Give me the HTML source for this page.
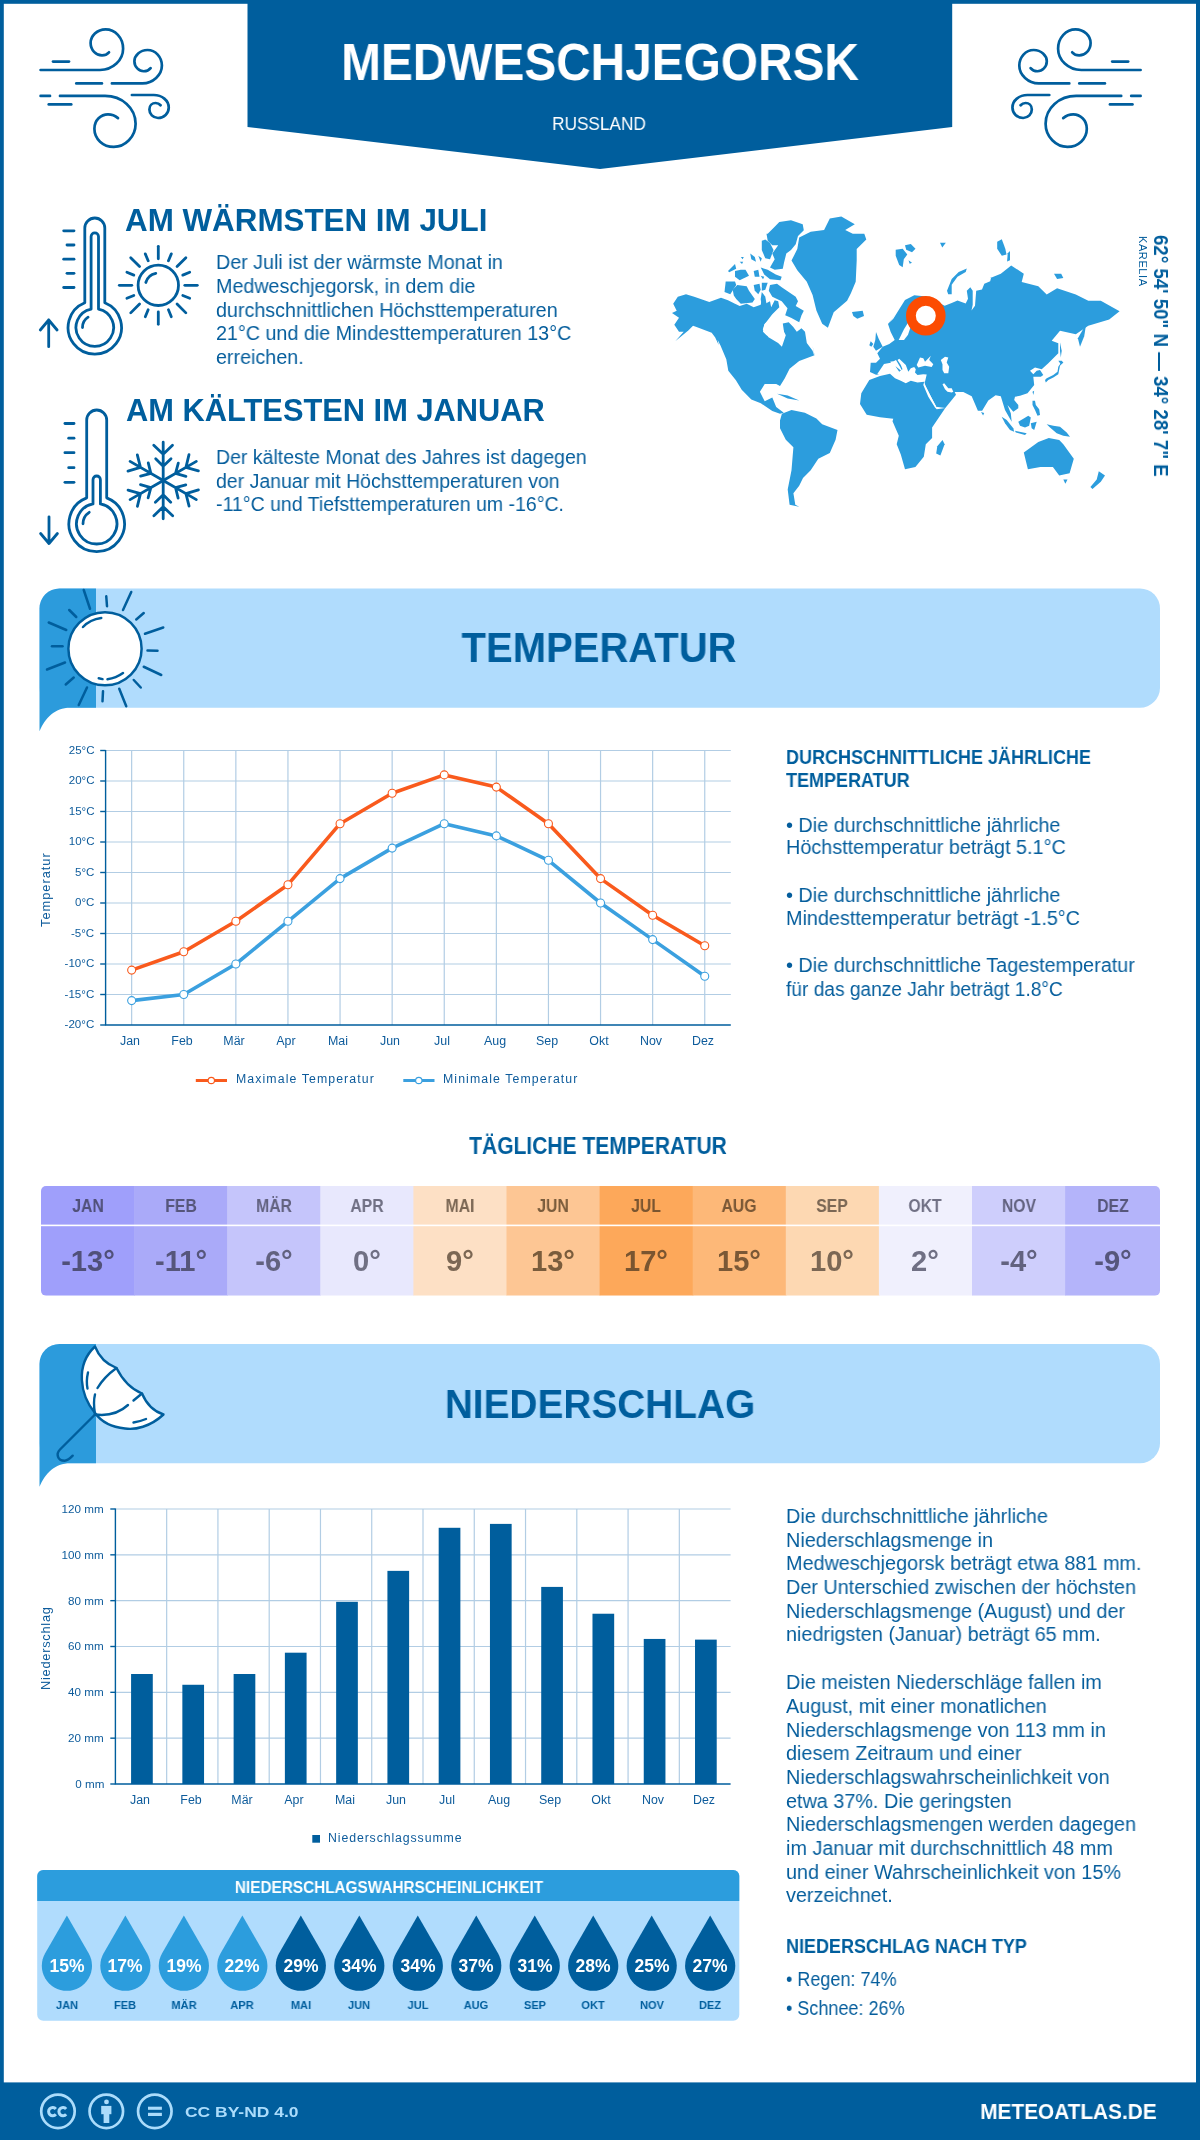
<!DOCTYPE html>
<html><head><meta charset="utf-8"><style>
html,body{margin:0;padding:0;}
body{width:1200px;height:2140px;position:relative;overflow:hidden;background:#fff;font-family:"Liberation Sans",sans-serif;-webkit-font-smoothing:antialiased;}
body>div{will-change:transform;}
</style></head><body>
<svg width="1200" height="2140" viewBox="0 0 1200 2140" style="position:absolute;left:0;top:0">
<rect x="0" y="0" width="1200" height="2140" fill="#005e9d"/>
<rect x="3.8" y="3.8" width="1192.2" height="2079" fill="#fff"/>
<polygon points="247.5,0 952.2,0 952.2,127 600,169 247.5,127" fill="#005e9d"/>
<g fill="none" stroke="#005e9d" stroke-width="2.7" stroke-linecap="round"><path d="M40.6 70 H100 C113 70 123.1 60 123.1 48.75 C123.1 37.5 115 29.4 105.6 29.4 C97 29.4 90.6 36 90.6 43 C90.6 50 96 55.4 102 55.4 C105 55.4 107.5 54 109 52.3"/><path d="M53 61.6 H69"/><path d="M76.3 83.4 H101.9"/><path d="M111.9 83.4 H142.5 C153 83.4 161.9 75 161.9 65.6 C161.9 57 155.5 50 147.5 50 C140 50 134.4 55.5 134.4 61.25 C134.4 67 139 71.25 143.75 71.25 C147 71.25 149.3 69.8 150.6 68.1"/><path d="M40.6 95.9 H50"/><path d="M60 95.9 H105 C122 95.9 135.6 108 135.6 123.75 C135.6 137 125 146.9 113.75 146.9 C103 146.9 94.4 139 94.4 128.75 C94.4 120 101 114.4 108 114.4 C112 114.4 115.5 116 118 118.1"/><path d="M48.75 104.4 H71.25"/><path d="M131.9 95 H153.75 C162 95 168.75 100.5 168.75 107.5 C168.75 113.5 164 118 158 118 C153 118 149.4 114 149.4 109.4 C149.4 105.5 152.3 103 155.6 103 C157.8 103 159.5 104 160.6 105.25"/></g>
<g fill="none" stroke="#005e9d" stroke-width="2.7" stroke-linecap="round" transform="translate(1181.2,0) scale(-1,1)"><path d="M40.6 70 H100 C113 70 123.1 60 123.1 48.75 C123.1 37.5 115 29.4 105.6 29.4 C97 29.4 90.6 36 90.6 43 C90.6 50 96 55.4 102 55.4 C105 55.4 107.5 54 109 52.3"/><path d="M53 61.6 H69"/><path d="M76.3 83.4 H101.9"/><path d="M111.9 83.4 H142.5 C153 83.4 161.9 75 161.9 65.6 C161.9 57 155.5 50 147.5 50 C140 50 134.4 55.5 134.4 61.25 C134.4 67 139 71.25 143.75 71.25 C147 71.25 149.3 69.8 150.6 68.1"/><path d="M40.6 95.9 H50"/><path d="M60 95.9 H105 C122 95.9 135.6 108 135.6 123.75 C135.6 137 125 146.9 113.75 146.9 C103 146.9 94.4 139 94.4 128.75 C94.4 120 101 114.4 108 114.4 C112 114.4 115.5 116 118 118.1"/><path d="M48.75 104.4 H71.25"/><path d="M131.9 95 H153.75 C162 95 168.75 100.5 168.75 107.5 C168.75 113.5 164 118 158 118 C153 118 149.4 114 149.4 109.4 C149.4 105.5 152.3 103 155.6 103 C157.8 103 159.5 104 160.6 105.25"/></g>
<g fill="none" stroke="#005e9d" stroke-width="2.8" stroke-linecap="round" stroke-linejoin="round"><path d="M84.80,302.74 V228.00 A10.0,10.0 0 0 1 104.80,228.00 V302.74 A26.7,26.7 0 1 1 84.80,302.74 Z"/><path d="M91.10,309.07 V236.60 A3.7,3.7 0 0 1 98.50,236.60 V309.07 A18.8,18.8 0 1 1 91.10,309.07 Z"/><path d="M82.50,327.50 A12.3,12.3 0 0 1 88.10,317.18"/><path d="M63.7,230.8 H74"/><path d="M67.0,245 H74"/><path d="M63.7,259.2 H74"/><path d="M67.0,273.3 H74"/><path d="M63.7,287.5 H74"/><path d="M48.7,346.7 V320 M40.300000000000004,330 L48.7,320 L57.1,330"/><circle cx="158.3" cy="285.3" r="20.2"/><path d="M145.8,282.5 A13,13 0 0 1 155.8,273.3"/><path d="M184.80,285.30 L197.30,285.30"/><path d="M182.78,295.44 L189.71,298.31"/><path d="M177.04,304.04 L185.88,312.88"/><path d="M168.44,309.78 L171.31,316.71"/><path d="M158.30,311.80 L158.30,324.30"/><path d="M148.16,309.78 L145.29,316.71"/><path d="M139.56,304.04 L130.72,312.88"/><path d="M133.82,295.44 L126.89,298.31"/><path d="M131.80,285.30 L119.30,285.30"/><path d="M133.82,275.16 L126.89,272.29"/><path d="M139.56,266.56 L130.72,257.72"/><path d="M148.16,260.82 L145.29,253.89"/><path d="M158.30,258.80 L158.30,246.30"/><path d="M168.44,260.82 L171.31,253.89"/><path d="M177.04,266.56 L185.88,257.72"/><path d="M182.78,275.16 L189.71,272.29"/><path d="M86.70,497.86 V420.00 A10.0,10.0 0 0 1 106.70,420.00 V497.86 A27.8,27.8 0 1 1 86.70,497.86 Z"/><path d="M93.00,503.94 V479.70 A3.7,3.7 0 0 1 100.40,479.70 V503.94 A20.2,20.2 0 1 1 93.00,503.94 Z"/><path d="M83.00,523.80 A13.7,13.7 0 0 1 89.24,512.31"/><path d="M64.95,423.5 H74"/><path d="M68.7,438.2 H74"/><path d="M64.95,452.7 H74"/><path d="M68.7,467.7 H74"/><path d="M64.95,482.3 H74"/><path d="M49,516.8 V543.5 M40.6,533.5 L49,543.5 L57.4,533.5"/><g transform="translate(163.2,480.5)"><path transform="rotate(0)" d="M0,0 V-38.25 M-9.45,-35.25 L0,-26.25 L9.3,-35.25 M-7.5,-21.75 L0,-14.25 L7.8,-21.75"/><path transform="rotate(60)" d="M0,0 V-38.25 M-9.45,-35.25 L0,-26.25 L9.3,-35.25 M-7.5,-21.75 L0,-14.25 L7.8,-21.75"/><path transform="rotate(120)" d="M0,0 V-38.25 M-9.45,-35.25 L0,-26.25 L9.3,-35.25 M-7.5,-21.75 L0,-14.25 L7.8,-21.75"/><path transform="rotate(180)" d="M0,0 V-38.25 M-9.45,-35.25 L0,-26.25 L9.3,-35.25 M-7.5,-21.75 L0,-14.25 L7.8,-21.75"/><path transform="rotate(240)" d="M0,0 V-38.25 M-9.45,-35.25 L0,-26.25 L9.3,-35.25 M-7.5,-21.75 L0,-14.25 L7.8,-21.75"/><path transform="rotate(300)" d="M0,0 V-38.25 M-9.45,-35.25 L0,-26.25 L9.3,-35.25 M-7.5,-21.75 L0,-14.25 L7.8,-21.75"/></g></g><rect x="39.5" y="588.5" width="1120.5" height="119.2" rx="20" fill="#b0dcfd"/><path d="M39.5,731.3 V608.5 A20,20 0 0 1 59.5,588.5 H96 V707.7 H70 C55,707.7 45,718 39.5,731.3 Z" fill="#2c9bdc"/><g fill="none" stroke="#005e9d" stroke-width="2.5" stroke-linecap="round"><path d="M83.75,590 L90,608.75"/><path d="M106.25,596.25 L107,606.25"/><path d="M131.25,592 L123,610"/><path d="M143.75,613 L136.25,619.5"/><path d="M163.25,627.5 L145,633.75"/><path d="M157.5,650.75 L147.5,650.5"/><path d="M161.25,675 L143.75,666.75"/><path d="M140.75,687.5 L133.75,680"/><path d="M126.25,706.25 L119.25,688.75"/><path d="M103,691.25 L102.5,701.25"/><path d="M87,687.5 L78.75,705"/><path d="M73.75,677.5 L65.75,684.5"/><path d="M65,662.5 L47,669.5"/><path d="M62.5,646.25 L52,646.25"/><path d="M66.25,630 L48.75,622.5"/><path d="M76.25,617 L69.25,610"/><circle cx="105" cy="648.75" r="36.6" fill="#fff"/><path d="M83,627 Q90,619.5 101.25,618"/><path d="M98.75,678.25 L102.5,679.1 M107.5,679.25 Q116,678 123,673"/></g><rect x="39.5" y="1344.0" width="1120.5" height="119.2" rx="20" fill="#b0dcfd"/><path d="M39.5,1486.8 V1364.0 A20,20 0 0 1 59.5,1344.0 H96 V1463.2 H70 C55,1463.2 45,1473.5 39.5,1486.8 Z" fill="#2c9bdc"/><g fill="none" stroke="#005e9d" stroke-width="2.4" stroke-linecap="round" stroke-linejoin="round"><path d="M95,1346.5 Q101,1362 116.5,1368 Q126,1387 142,1393.5 Q149,1410 163.5,1414.5 C150,1427 135,1430 125,1428.5 C110,1427 100,1420 95,1413 C80,1395 75,1365 95,1346.5 Z" fill="#fff"/><path d="M95,1414.5 Q93,1402 95,1394.5"/><path d="M97.5,1388 Q104,1377 116.5,1368"/><path d="M95,1414.5 Q115,1417 128,1405"/><path d="M133.5,1400.5 L142,1393.5"/><path d="M88,1372.5 Q86,1381 87.5,1388.5"/><path d="M133.5,1422.5 Q140,1421.5 146,1419"/><path d="M95,1414.5 L60,1449.5 C56,1453.5 57,1460.7 64.7,1460.7 C67.5,1460.7 70,1458.5 72.7,1455.7"/></g><polygon points="672.0,313.0 676.7,310.7 673.2,303.7 677.8,296.7 686.0,294.3 694.2,296.7 709.3,301.9 721.0,297.8 728.0,300.2 735.0,303.7 739.7,306.0 746.7,303.7 753.7,307.2 760.7,304.8 763.0,294.3 765.3,303.7 770.0,301.3 771.2,307.2 774.7,300.2 778.2,301.3 779.3,307.2 775.8,310.7 772.3,314.2 764.2,324.7 763.0,331.7 766.5,335.2 775.8,338.7 781.7,339.8 784.0,331.7 782.8,323.5 788.7,322.3 793.3,327.0 796.8,331.7 801.5,328.2 805.0,331.7 806.8,343.0 812.6,350.7 814.5,356.4 812.6,345.8 814.5,355.3 799.2,361.1 789.6,368.8 784.8,378.3 780.0,386.0 776.2,384.1 764.7,384.1 759.9,391.8 764.7,401.3 772.3,397.5 776.2,407.1 783.8,412.8 780.0,413.8 772.3,410.9 760.8,403.3 751.3,399.4 741.7,389.8 735.9,380.3 728.3,370.7 726.3,359.2 720.6,345.8 717.7,340.0 718.7,345.0 715.2,337.5 711.7,332.8 696.5,327.0 693.0,325.8 688.3,330.5 675.5,341.0 683.7,331.7 679.0,331.7 674.3,324.7 679.0,317.7" fill="#2c9ddd"/><polygon points="764.7,323.8 772.3,318.1 780.0,323.8 785.8,335.3 781.9,346.8 778.1,343.0 768.5,337.3 762.8,329.6" fill="#ffffff"/><polygon points="777.1,393.7 787.7,395.6 799.2,400.4 787.7,398.5" fill="#2c9ddd"/><polygon points="824.1,229.9 829.8,218.4 841.3,216.5 854.8,224.2 845.2,229.9 852.8,233.8 864.3,233.8 866.3,239.5 856.7,249.1 856.7,260.6 855.7,281.7 850.9,293.2 847.1,300.8 833.7,312.3 827.9,327.7 822.2,323.8 816.4,310.4 812.6,295.1 806.8,281.7 797.3,270.2 791.5,260.6 797.3,249.1 799.2,237.6 810.7,231.8" fill="#2c9ddd"/><polygon points="732.7,289.7 737.3,285.0 746.7,286.2 749.0,290.8 754.8,299.0 752.5,302.5 740.8,303.7 736.2,299.0 733.8,295.5" fill="#2c9ddd"/><polygon points="725.7,281.5 735.0,281.5 736.2,285.0 730.3,294.3 724.5,292.0" fill="#2c9ddd"/><polygon points="770.0,285.0 777.0,283.8 781.7,287.3 788.7,292.0 795.7,296.7 798.0,301.3 795.7,306.0 803.8,310.7 801.5,315.3 799.2,322.3 791.0,317.7 785.2,315.3 787.5,308.3 781.7,301.3 777.0,299.0 772.3,296.7 768.8,290.8" fill="#2c9ddd"/><polygon points="761.8,282.7 767.7,282.7 765.3,289.7 761.8,290.8" fill="#2c9ddd"/><polygon points="753.7,285.0 759.5,283.8 760.7,289.7 758.3,294.3 754.8,290.8" fill="#2c9ddd"/><polygon points="761.8,292.0 765.3,296.7 766.5,303.7 761.8,307.2 760.7,299.0" fill="#2c9ddd"/><polygon points="735.0,271.0 740.8,269.8 745.5,269.8 749.0,275.7 739.7,280.3 735.0,276.8" fill="#2c9ddd"/><polygon points="728.0,271.0 735.0,264.0 736.2,268.7 729.2,272.2" fill="#2c9ddd"/><polygon points="753.7,271.0 758.3,269.8 759.5,276.8 754.8,276.8" fill="#2c9ddd"/><polygon points="760.7,267.5 767.7,269.8 775.8,274.5 781.7,276.8 780.5,280.3 770.0,279.2 764.2,274.5" fill="#2c9ddd"/><polygon points="760.7,275.7 764.2,276.8 763.0,279.2" fill="#2c9ddd"/><polygon points="767.7,233.7 774.7,226.7 779.3,222.0 791.0,220.3 802.7,224.3 803.8,230.2 798.0,236.0 795.7,244.2 791.0,250.0 786.3,253.5 784.0,262.8 782.8,268.7 774.7,269.8 770.0,267.5 774.7,259.3 772.3,253.5 778.2,245.3 772.3,245.3 767.7,240.7 766.5,233.7" fill="#2c9ddd"/><polygon points="761.8,240.7 765.3,239.5 770.0,243.0 773.5,250.0 770.0,259.3 765.3,258.2 761.8,250.0" fill="#2c9ddd"/><polygon points="750.2,253.5 754.8,257.0 756.0,261.7 751.3,259.3" fill="#2c9ddd"/><polygon points="758.3,255.8 761.8,258.2 760.7,261.7" fill="#2c9ddd"/><polygon points="740.8,257.0 743.8,257.0 742.6,259.3" fill="#2c9ddd"/><polygon points="739.7,261.7 743.2,261.7 742.0,264.0" fill="#2c9ddd"/><polygon points="781.9,413.8 791.5,410.0 804.9,412.8 816.4,418.6 822.2,424.3 837.5,430.1 835.6,439.7 829.8,453.1 818.3,458.8 810.7,470.3 803.0,478.0 799.2,485.7 793.4,493.3 795.3,504.8 799.2,506.8 789.6,504.8 787.7,489.5 791.5,470.3 793.4,447.3 785.8,439.7 780.0,428.2 780.0,420.5" fill="#2c9ddd"/><polygon points="896.0,313.3 888.0,324.0 890.7,332.0 894.7,340.0 889.3,344.0 882.7,346.7 877.3,353.3 880.0,358.7 876.0,362.7 870.7,362.7 870.0,372.0 876.0,374.7 884.0,374.0 893.3,374.7 906.7,380.0 924.0,380.0 925.3,385.3 936.0,406.7 945.3,408.0 956.0,394.7 954.7,392.0 963.3,392.1 971.7,396.2 977.9,410.8 982.1,410.8 988.3,400.4 995.6,395.2 1000.8,396.2 1000.8,396.2 1005.0,410.0 1011.7,421.7 1010.8,413.3 1007.5,405.0 1013.3,411.7 1018.3,408.3 1018.3,405.0 1014.2,400.0 1015.0,396.7 1020.0,395.8 1027.5,393.3 1034.2,385.0 1033.3,376.7 1040.8,376.7 1043.3,375.0 1040.0,370.0 1036.7,370.8 1033.3,374.2 1030.0,370.8 1035.0,367.5 1041.7,369.2 1048.3,363.3 1058.3,353.3 1058.3,343.3 1051.7,340.8 1060.0,330.8 1075.8,334.2 1088.3,325.8 1109.2,319.6 1119.6,311.2 1100.8,300.8 1088.3,300.8 1075.8,294.6 1057.1,288.3 1046.7,294.6 1038.3,286.2 1021.7,282.1 1023.8,273.8 1011.2,265.4 1000.8,273.8 990.4,277.9 991.3,276.7 990.2,281.3 984.3,283.7 982.0,289.5 976.2,290.7 975.0,305.8 971.5,310.5 972.7,304.7 972.7,290.7 970.3,287.2 966.8,290.7 968.0,298.8 965.7,303.5 957.5,300.6 951.7,302.9 944.7,305.8 926.0,296.5 914.3,295.3 905.0,300.0 899.2,309.3 893.3,318.7 888.7,323.3" fill="#2c9ddd"/><polygon points="877.3,374.0 884.0,364.0 890.7,362.7 896.0,360.0 900.0,366.7 902.7,372.0 890.0,361.7 893.3,361.2 895.8,366.7 899.2,371.7 902.5,369.2 900.8,365.0 897.5,360.0 899.2,358.8 905.8,365.0 908.3,371.7 910.8,368.3 914.2,367.1 915.8,369.2 915.0,372.5 917.5,375.0 923.3,374.2 926.7,374.6 925.0,381.7 917.5,382.5 910.8,380.8 905.8,383.3 900.8,380.8 895.0,378.3 890.0,373.8 893.3,376.0 880.0,375.3" fill="#ffffff"/><polygon points="916.7,365.0 920.0,357.5 923.3,358.3 925.0,361.7 929.2,357.5 930.8,355.8 929.2,360.0 933.3,364.2 931.7,367.1 925.0,365.8 918.3,367.5" fill="#ffffff"/><polygon points="940.8,360.0 945.0,356.7 948.3,357.5 946.7,362.5 949.2,366.7 948.3,373.3 944.2,373.3 942.5,370.0 942.5,364.2" fill="#ffffff"/><polygon points="922.1,384.2 925.0,385.0 930.0,395.0 936.2,406.2 935.4,407.9 928.3,396.7" fill="#ffffff"/><polygon points="942.5,384.2 944.2,383.3 948.3,388.3 951.7,388.3 953.3,391.7 951.7,392.5 947.5,391.7 945.0,389.2" fill="#ffffff"/><polygon points="898.7,340.0 904.0,329.3 908.0,322.7 910.7,326.7 908.0,334.7 904.0,340.0" fill="#ffffff"/><polygon points="876.0,332.0 878.7,338.7 882.7,346.7 876.0,350.7 873.3,346.7 875.3,340.0" fill="#2c9ddd"/><polygon points="870.7,341.3 873.3,344.0 871.3,346.7 869.3,345.3" fill="#2c9ddd"/><polygon points="852.0,312.0 862.7,310.7 864.0,316.0 857.3,318.7 853.3,316.0" fill="#2c9ddd"/><polygon points="861.3,393.3 869.3,380.0 880.0,376.0 890.0,373.8 895.0,378.3 900.8,380.8 905.8,383.3 910.8,380.8 917.5,382.5 924.2,381.7 923.3,385.0 928.3,396.7 935.0,407.5 936.7,409.2 945.3,408.0 932.1,427.5 932.1,437.9 925.8,444.2 923.8,456.7 915.4,467.1 905.0,469.2 900.8,454.6 896.7,444.2 898.8,435.8 892.5,421.2 893.3,418.7 880.0,417.3 866.7,414.7 860.0,404.0" fill="#2c9ddd"/><polygon points="942.5,440.0 944.6,444.2 940.4,455.6 936.2,453.5 937.3,446.2" fill="#2c9ddd"/><polygon points="947.0,290.7 951.7,279.0 958.7,272.0 966.8,268.5 965.7,272.0 957.5,276.7 951.7,284.8 951.7,294.2 948.2,294.2" fill="#2c9ddd"/><polygon points="895.7,249.8 902.7,248.7 907.3,254.5 903.8,259.2 902.7,267.3 899.2,265.0 895.7,255.7" fill="#2c9ddd"/><polygon points="905.0,245.2 910.8,244.0 915.5,248.7 912.0,252.2 906.2,249.8" fill="#2c9ddd"/><polygon points="908.5,260.3 912.0,262.7 909.7,263.8" fill="#2c9ddd"/><polygon points="940.0,242.8 945.8,242.8 942.3,247.5" fill="#2c9ddd"/><polygon points="997.2,241.7 1001.8,239.3 1005.3,248.7 1006.5,254.5 1001.8,255.7 997.2,248.7" fill="#2c9ddd"/><polygon points="1007.7,253.3 1010.0,251.0 1010.0,260.3 1007.1,261.5" fill="#2c9ddd"/><polygon points="1054.0,273.8 1061.2,273.8 1063.3,277.9 1057.1,279.0" fill="#2c9ddd"/><polygon points="1086.2,323.8 1077.9,338.3 1080.0,346.7 1084.2,336.2" fill="#2c9ddd"/><polygon points="1045.0,380.0 1046.7,378.3 1053.3,375.0 1057.5,371.7 1058.3,366.7 1061.7,361.7 1063.3,362.5 1060.0,365.8 1058.3,374.2 1053.3,377.5 1048.3,380.0 1045.8,382.5" fill="#2c9ddd"/><polygon points="1058.3,360.8 1061.7,360.8 1063.3,362.5 1060.8,364.2" fill="#2c9ddd"/><polygon points="1060.0,342.5 1061.7,350.8 1060.8,357.5 1060.0,350.8" fill="#2c9ddd"/><polygon points="1032.5,391.7 1034.2,390.8 1033.3,395.0" fill="#2c9ddd"/><polygon points="1032.5,400.8 1035.0,400.8 1035.8,405.0 1039.2,409.2 1040.0,415.0 1037.5,415.8 1035.0,410.0 1032.5,405.0" fill="#2c9ddd"/><polygon points="1018.3,421.7 1028.3,415.8 1030.8,417.5 1029.2,425.8 1025.0,427.5 1020.0,425.8" fill="#2c9ddd"/><polygon points="1030.8,423.3 1036.7,421.7 1034.2,430.0 1031.7,428.3" fill="#2c9ddd"/><polygon points="1001.7,416.7 1006.7,420.0 1013.3,428.3 1014.2,431.7 1010.0,430.0 1005.0,423.3" fill="#2c9ddd"/><polygon points="1015.0,430.8 1026.7,433.3 1025.0,435.0 1015.8,432.5" fill="#2c9ddd"/><polygon points="1046.7,424.2 1053.3,425.8 1060.0,426.7 1066.7,432.5 1070.0,436.7 1063.3,435.8 1056.7,433.3 1050.0,427.5" fill="#2c9ddd"/><polygon points="981.0,411.9 984.2,412.9 983.1,415.4" fill="#2c9ddd"/><polygon points="1023.8,452.5 1038.3,442.1 1048.8,437.9 1059.2,440.0 1063.3,444.2 1073.8,458.8 1069.6,473.3 1059.2,475.4 1052.9,467.1 1040.4,467.1 1027.9,469.2 1025.8,460.8" fill="#2c9ddd"/><polygon points="1063.3,479.6 1067.5,479.6 1065.4,483.8" fill="#2c9ddd"/><polygon points="1098.8,471.2 1105.0,475.4 1100.8,481.7 1092.5,489.0 1090.4,486.9 1096.7,479.6" fill="#2c9ddd"/><circle cx="925.8" cy="315.8" r="14.9" fill="#fff" stroke="#fc4c02" stroke-width="9.8"/><g stroke="#b2cde4" stroke-width="1.2" fill="none"><path d="M105.6,994.50 H730.8"/><path d="M105.6,964.00 H730.8"/><path d="M105.6,933.50 H730.8"/><path d="M105.6,903.00 H730.8"/><path d="M105.6,872.50 H730.8"/><path d="M105.6,842.00 H730.8"/><path d="M105.6,811.50 H730.8"/><path d="M105.6,781.00 H730.8"/><path d="M105.6,750.50 H730.8"/><path d="M131.65,750.50 V1025.00"/><path d="M183.75,750.50 V1025.00"/><path d="M235.85,750.50 V1025.00"/><path d="M287.95,750.50 V1025.00"/><path d="M340.05,750.50 V1025.00"/><path d="M392.15,750.50 V1025.00"/><path d="M444.25,750.50 V1025.00"/><path d="M496.35,750.50 V1025.00"/><path d="M548.45,750.50 V1025.00"/><path d="M600.55,750.50 V1025.00"/><path d="M652.65,750.50 V1025.00"/><path d="M704.75,750.50 V1025.00"/></g><path d="M105.6,750.00 V1025.00 H730.8" stroke="#005e9d" stroke-width="1.4" fill="none"/><g stroke="#005e9d" stroke-width="1.4"><path d="M100.2,1025.00 H105.6"/><path d="M100.2,994.50 H105.6"/><path d="M100.2,964.00 H105.6"/><path d="M100.2,933.50 H105.6"/><path d="M100.2,903.00 H105.6"/><path d="M100.2,872.50 H105.6"/><path d="M100.2,842.00 H105.6"/><path d="M100.2,811.50 H105.6"/><path d="M100.2,781.00 H105.6"/><path d="M100.2,750.50 H105.6"/></g><polyline points="131.65,1000.60 183.75,994.50 235.85,964.00 287.95,921.30 340.05,878.60 392.15,848.10 444.25,823.70 496.35,835.90 548.45,860.30 600.55,903.00 652.65,939.60 704.75,976.20" fill="none" stroke="#3ba0df" stroke-width="3.6" stroke-linejoin="round"/><circle cx="131.65" cy="1000.60" r="4.0" fill="#fff" stroke="#3ba0df" stroke-width="1.1"/><circle cx="183.75" cy="994.50" r="4.0" fill="#fff" stroke="#3ba0df" stroke-width="1.1"/><circle cx="235.85" cy="964.00" r="4.0" fill="#fff" stroke="#3ba0df" stroke-width="1.1"/><circle cx="287.95" cy="921.30" r="4.0" fill="#fff" stroke="#3ba0df" stroke-width="1.1"/><circle cx="340.05" cy="878.60" r="4.0" fill="#fff" stroke="#3ba0df" stroke-width="1.1"/><circle cx="392.15" cy="848.10" r="4.0" fill="#fff" stroke="#3ba0df" stroke-width="1.1"/><circle cx="444.25" cy="823.70" r="4.0" fill="#fff" stroke="#3ba0df" stroke-width="1.1"/><circle cx="496.35" cy="835.90" r="4.0" fill="#fff" stroke="#3ba0df" stroke-width="1.1"/><circle cx="548.45" cy="860.30" r="4.0" fill="#fff" stroke="#3ba0df" stroke-width="1.1"/><circle cx="600.55" cy="903.00" r="4.0" fill="#fff" stroke="#3ba0df" stroke-width="1.1"/><circle cx="652.65" cy="939.60" r="4.0" fill="#fff" stroke="#3ba0df" stroke-width="1.1"/><circle cx="704.75" cy="976.20" r="4.0" fill="#fff" stroke="#3ba0df" stroke-width="1.1"/><polyline points="131.65,970.10 183.75,951.80 235.85,921.30 287.95,884.70 340.05,823.70 392.15,793.20 444.25,774.90 496.35,787.10 548.45,823.70 600.55,878.60 652.65,915.20 704.75,945.70" fill="none" stroke="#f95a1d" stroke-width="3.6" stroke-linejoin="round"/><circle cx="131.65" cy="970.10" r="4.0" fill="#fff" stroke="#f95a1d" stroke-width="1.1"/><circle cx="183.75" cy="951.80" r="4.0" fill="#fff" stroke="#f95a1d" stroke-width="1.1"/><circle cx="235.85" cy="921.30" r="4.0" fill="#fff" stroke="#f95a1d" stroke-width="1.1"/><circle cx="287.95" cy="884.70" r="4.0" fill="#fff" stroke="#f95a1d" stroke-width="1.1"/><circle cx="340.05" cy="823.70" r="4.0" fill="#fff" stroke="#f95a1d" stroke-width="1.1"/><circle cx="392.15" cy="793.20" r="4.0" fill="#fff" stroke="#f95a1d" stroke-width="1.1"/><circle cx="444.25" cy="774.90" r="4.0" fill="#fff" stroke="#f95a1d" stroke-width="1.1"/><circle cx="496.35" cy="787.10" r="4.0" fill="#fff" stroke="#f95a1d" stroke-width="1.1"/><circle cx="548.45" cy="823.70" r="4.0" fill="#fff" stroke="#f95a1d" stroke-width="1.1"/><circle cx="600.55" cy="878.60" r="4.0" fill="#fff" stroke="#f95a1d" stroke-width="1.1"/><circle cx="652.65" cy="915.20" r="4.0" fill="#fff" stroke="#f95a1d" stroke-width="1.1"/><circle cx="704.75" cy="945.70" r="4.0" fill="#fff" stroke="#f95a1d" stroke-width="1.1"/><path d="M195.8,1080.5 H227" stroke="#f95a1d" stroke-width="3"/><circle cx="211.3" cy="1080.5" r="3.2" fill="#fff" stroke="#f95a1d" stroke-width="1.2"/><path d="M403.3,1080.5 H434.5" stroke="#3ba0df" stroke-width="3"/><circle cx="418.8" cy="1080.5" r="3.2" fill="#fff" stroke="#3ba0df" stroke-width="1.2"/><defs><clipPath id="tclip"><rect x="41" y="1186" width="1119" height="109.7" rx="5"/></clipPath></defs><g clip-path="url(#tclip)"><rect x="41.00" y="1186" width="93.70" height="109.7" fill="#9f9ffb"/><rect x="134.10" y="1186" width="93.70" height="109.7" fill="#aaaaf9"/><rect x="227.20" y="1186" width="93.70" height="109.7" fill="#c5c5fb"/><rect x="320.30" y="1186" width="93.70" height="109.7" fill="#e8e8fd"/><rect x="413.40" y="1186" width="93.70" height="109.7" fill="#fde0c5"/><rect x="506.50" y="1186" width="93.70" height="109.7" fill="#fdc694"/><rect x="599.60" y="1186" width="93.70" height="109.7" fill="#fda85a"/><rect x="692.70" y="1186" width="93.70" height="109.7" fill="#fdb878"/><rect x="785.80" y="1186" width="93.70" height="109.7" fill="#fdd8b2"/><rect x="878.90" y="1186" width="93.70" height="109.7" fill="#f0f0fd"/><rect x="972.00" y="1186" width="93.70" height="109.7" fill="#cecefc"/><rect x="1065.10" y="1186" width="95.50" height="109.7" fill="#b4b4fa"/><rect x="41" y="1224.6" width="1119" height="1.6" fill="#fff"/></g><g stroke="#b2cde4" stroke-width="1.2" fill="none"><path d="M115.4,1738.17 H730.6"/><path d="M115.4,1692.33 H730.6"/><path d="M115.4,1646.50 H730.6"/><path d="M115.4,1600.66 H730.6"/><path d="M115.4,1554.83 H730.6"/><path d="M115.4,1509.00 H730.6"/><path d="M166.67,1509.00 V1784.00"/><path d="M217.93,1509.00 V1784.00"/><path d="M269.20,1509.00 V1784.00"/><path d="M320.47,1509.00 V1784.00"/><path d="M371.73,1509.00 V1784.00"/><path d="M423.00,1509.00 V1784.00"/><path d="M474.27,1509.00 V1784.00"/><path d="M525.53,1509.00 V1784.00"/><path d="M576.80,1509.00 V1784.00"/><path d="M628.07,1509.00 V1784.00"/><path d="M679.33,1509.00 V1784.00"/></g><rect x="131.08" y="1674.00" width="21.7" height="110.00" fill="#005e9d"/><rect x="182.35" y="1684.77" width="21.7" height="99.23" fill="#005e9d"/><rect x="233.62" y="1674.00" width="21.7" height="110.00" fill="#005e9d"/><rect x="284.88" y="1652.69" width="21.7" height="131.31" fill="#005e9d"/><rect x="336.15" y="1601.81" width="21.7" height="182.19" fill="#005e9d"/><rect x="387.42" y="1570.87" width="21.7" height="213.13" fill="#005e9d"/><rect x="438.68" y="1527.79" width="21.7" height="256.21" fill="#005e9d"/><rect x="489.95" y="1523.89" width="21.7" height="260.11" fill="#005e9d"/><rect x="541.22" y="1586.91" width="21.7" height="197.09" fill="#005e9d"/><rect x="592.48" y="1613.73" width="21.7" height="170.27" fill="#005e9d"/><rect x="643.75" y="1638.94" width="21.7" height="145.06" fill="#005e9d"/><rect x="695.02" y="1639.62" width="21.7" height="144.38" fill="#005e9d"/><path d="M115.4,1508.50 V1784.00 H730.6" stroke="#005e9d" stroke-width="1.4" fill="none"/><g stroke="#005e9d" stroke-width="1.4"><path d="M110.3,1784.00 H115.4"/><path d="M110.3,1738.17 H115.4"/><path d="M110.3,1692.33 H115.4"/><path d="M110.3,1646.50 H115.4"/><path d="M110.3,1600.66 H115.4"/><path d="M110.3,1554.83 H115.4"/><path d="M110.3,1509.00 H115.4"/></g><rect x="312.3" y="1835" width="7.7" height="7.7" fill="#005e9d"/><rect x="37.2" y="1870" width="702.1" height="150.7" rx="6" fill="#b0dcfd"/><path d="M37.2,1901 V1876 A6,6 0 0 1 43.2,1870 H733.3 A6,6 0 0 1 739.3,1876 V1901 Z" fill="#2c9ddd"/><path d="M66.90,1915.5 L88.64,1953.15 A25.1,25.1 0 1 1 45.16,1953.15 Z" fill="#2c9ddd"/><path d="M125.38,1915.5 L147.12,1953.15 A25.1,25.1 0 1 1 103.64,1953.15 Z" fill="#2c9ddd"/><path d="M183.86,1915.5 L205.60,1953.15 A25.1,25.1 0 1 1 162.12,1953.15 Z" fill="#2c9ddd"/><path d="M242.34,1915.5 L264.08,1953.15 A25.1,25.1 0 1 1 220.60,1953.15 Z" fill="#2c9ddd"/><path d="M300.82,1915.5 L322.56,1953.15 A25.1,25.1 0 1 1 279.08,1953.15 Z" fill="#005e9d"/><path d="M359.30,1915.5 L381.04,1953.15 A25.1,25.1 0 1 1 337.56,1953.15 Z" fill="#005e9d"/><path d="M417.78,1915.5 L439.52,1953.15 A25.1,25.1 0 1 1 396.04,1953.15 Z" fill="#005e9d"/><path d="M476.26,1915.5 L498.00,1953.15 A25.1,25.1 0 1 1 454.52,1953.15 Z" fill="#005e9d"/><path d="M534.74,1915.5 L556.48,1953.15 A25.1,25.1 0 1 1 513.00,1953.15 Z" fill="#005e9d"/><path d="M593.22,1915.5 L614.96,1953.15 A25.1,25.1 0 1 1 571.48,1953.15 Z" fill="#005e9d"/><path d="M651.70,1915.5 L673.44,1953.15 A25.1,25.1 0 1 1 629.96,1953.15 Z" fill="#005e9d"/><path d="M710.18,1915.5 L731.92,1953.15 A25.1,25.1 0 1 1 688.44,1953.15 Z" fill="#005e9d"/><rect x="0" y="2082.5" width="1200" height="57.5" fill="#005e9d"/><g fill="none" stroke="#abdcfb" stroke-width="2.7"><circle cx="57.96" cy="2111.3" r="16.75"/><circle cx="106.3" cy="2111.3" r="16.75"/><circle cx="154.8" cy="2111.3" r="16.75"/></g><path d="M55.84,2114.24 A4.1,4.1 0 1 1 55.84,2108.96 M66.14,2114.24 A4.1,4.1 0 1 1 66.14,2108.96" fill="none" stroke="#abdcfb" stroke-width="3"/><circle cx="106.5" cy="2101.9" r="2.4" fill="#abdcfb"/><rect x="101.2" y="2105.9" width="10.2" height="8.3" fill="#abdcfb"/><rect x="103.6" y="2113.5" width="5.7" height="9.5" fill="#abdcfb"/><rect x="148" y="2106.7" width="13.9" height="3.1" fill="#abdcfb"/><rect x="148" y="2112.8" width="13.9" height="3.2" fill="#abdcfb"/>
</svg>
<div style="position:absolute;top:32.33px;font-size:51px;line-height:61.2px;font-weight:bold;color:#fff;white-space:pre;letter-spacing:0px;left:600.00px;transform:translateX(-50%) scaleX(0.937);">MEDWESCHJEGORSK</div>
<div style="position:absolute;top:112.82px;font-size:19px;line-height:22.8px;font-weight:normal;color:#fff;white-space:pre;letter-spacing:0px;left:598.70px;transform:translateX(-50%) scaleX(0.906);">RUSSLAND</div>
<div style="position:absolute;top:202.74px;font-size:30.7px;line-height:36.84px;font-weight:bold;color:#005e9d;white-space:pre;letter-spacing:0px;left:124.80px;transform-origin:0 0;transform:scaleX(1.022);">AM WÄRMSTEN IM JULI</div>
<div style="position:absolute;top:392.94px;font-size:30.7px;line-height:36.84px;font-weight:bold;color:#005e9d;white-space:pre;letter-spacing:0px;left:126.00px;transform-origin:0 0;transform:scaleX(1.004);">AM KÄLTESTEN IM JANUAR</div>
<div style="position:absolute;top:250.37px;font-size:20px;line-height:24.0px;font-weight:normal;color:#045d9c;white-space:pre;letter-spacing:0px;left:216.00px;transform-origin:0 0;transform:scaleX(0.985);">Der Juli ist der wärmste Monat in</div>
<div style="position:absolute;top:274.04px;font-size:20px;line-height:24.0px;font-weight:normal;color:#045d9c;white-space:pre;letter-spacing:0px;left:216.00px;transform-origin:0 0;transform:scaleX(0.985);">Medweschjegorsk, in dem die</div>
<div style="position:absolute;top:297.71px;font-size:20px;line-height:24.0px;font-weight:normal;color:#045d9c;white-space:pre;letter-spacing:0px;left:216.00px;transform-origin:0 0;transform:scaleX(0.985);">durchschnittlichen Höchsttemperaturen</div>
<div style="position:absolute;top:321.38px;font-size:20px;line-height:24.0px;font-weight:normal;color:#045d9c;white-space:pre;letter-spacing:0px;left:216.00px;transform-origin:0 0;transform:scaleX(0.985);">21°C und die Mindesttemperaturen 13°C</div>
<div style="position:absolute;top:345.05px;font-size:20px;line-height:24.0px;font-weight:normal;color:#045d9c;white-space:pre;letter-spacing:0px;left:216.00px;transform-origin:0 0;transform:scaleX(0.985);">erreichen.</div>
<div style="position:absolute;top:445.07px;font-size:20px;line-height:24.0px;font-weight:normal;color:#045d9c;white-space:pre;letter-spacing:0px;left:216.00px;transform-origin:0 0;transform:scaleX(0.975);">Der kälteste Monat des Jahres ist dagegen</div>
<div style="position:absolute;top:468.67px;font-size:20px;line-height:24.0px;font-weight:normal;color:#045d9c;white-space:pre;letter-spacing:0px;left:216.00px;transform-origin:0 0;transform:scaleX(0.975);">der Januar mit Höchsttemperaturen von</div>
<div style="position:absolute;top:492.27px;font-size:20px;line-height:24.0px;font-weight:normal;color:#045d9c;white-space:pre;letter-spacing:0px;left:216.00px;transform-origin:0 0;transform:scaleX(0.975);">-11°C und Tiefsttemperaturen um -16°C.</div>
<div style="position:absolute;left:1170.1px;top:235.1px;transform-origin:0 0;transform:rotate(90deg) scaleX(0.957);font-size:19.5px;line-height:19.5px;font-weight:bold;color:#005e9d;white-space:pre;">62° 54' 50" N — 34° 28' 7" E</div>
<div style="position:absolute;left:1148.1px;top:236.4px;transform-origin:0 0;transform:rotate(90deg);font-size:11px;line-height:11px;letter-spacing:0.6px;color:#045d9c;white-space:pre;">KARELIA</div>
<div style="position:absolute;top:1018.39px;font-size:11px;line-height:13.2px;font-weight:normal;color:#0d5b9b;white-space:pre;letter-spacing:0px;right:1105.90px;transform-origin:100% 0;transform:scaleX(1.05);">-20°C</div>
<div style="position:absolute;top:987.89px;font-size:11px;line-height:13.2px;font-weight:normal;color:#0d5b9b;white-space:pre;letter-spacing:0px;right:1105.90px;transform-origin:100% 0;transform:scaleX(1.05);">-15°C</div>
<div style="position:absolute;top:957.39px;font-size:11px;line-height:13.2px;font-weight:normal;color:#0d5b9b;white-space:pre;letter-spacing:0px;right:1105.90px;transform-origin:100% 0;transform:scaleX(1.05);">-10°C</div>
<div style="position:absolute;top:926.89px;font-size:11px;line-height:13.2px;font-weight:normal;color:#0d5b9b;white-space:pre;letter-spacing:0px;right:1105.90px;transform-origin:100% 0;transform:scaleX(1.05);">-5°C</div>
<div style="position:absolute;top:896.39px;font-size:11px;line-height:13.2px;font-weight:normal;color:#0d5b9b;white-space:pre;letter-spacing:0px;right:1105.90px;transform-origin:100% 0;transform:scaleX(1.05);">0°C</div>
<div style="position:absolute;top:865.89px;font-size:11px;line-height:13.2px;font-weight:normal;color:#0d5b9b;white-space:pre;letter-spacing:0px;right:1105.90px;transform-origin:100% 0;transform:scaleX(1.05);">5°C</div>
<div style="position:absolute;top:835.39px;font-size:11px;line-height:13.2px;font-weight:normal;color:#0d5b9b;white-space:pre;letter-spacing:0px;right:1105.90px;transform-origin:100% 0;transform:scaleX(1.05);">10°C</div>
<div style="position:absolute;top:804.89px;font-size:11px;line-height:13.2px;font-weight:normal;color:#0d5b9b;white-space:pre;letter-spacing:0px;right:1105.90px;transform-origin:100% 0;transform:scaleX(1.05);">15°C</div>
<div style="position:absolute;top:774.39px;font-size:11px;line-height:13.2px;font-weight:normal;color:#0d5b9b;white-space:pre;letter-spacing:0px;right:1105.90px;transform-origin:100% 0;transform:scaleX(1.05);">20°C</div>
<div style="position:absolute;top:743.89px;font-size:11px;line-height:13.2px;font-weight:normal;color:#0d5b9b;white-space:pre;letter-spacing:0px;right:1105.90px;transform-origin:100% 0;transform:scaleX(1.05);">25°C</div>
<div style="position:absolute;top:1034.16px;font-size:12.3px;line-height:14.76px;font-weight:normal;color:#0d5b9b;white-space:pre;letter-spacing:0px;left:129.85px;transform:translateX(-50%) scaleX(1.01);">Jan</div>
<div style="position:absolute;top:1034.16px;font-size:12.3px;line-height:14.76px;font-weight:normal;color:#0d5b9b;white-space:pre;letter-spacing:0px;left:181.95px;transform:translateX(-50%) scaleX(1.01);">Feb</div>
<div style="position:absolute;top:1034.16px;font-size:12.3px;line-height:14.76px;font-weight:normal;color:#0d5b9b;white-space:pre;letter-spacing:0px;left:234.05px;transform:translateX(-50%) scaleX(1.01);">Mär</div>
<div style="position:absolute;top:1034.16px;font-size:12.3px;line-height:14.76px;font-weight:normal;color:#0d5b9b;white-space:pre;letter-spacing:0px;left:286.15px;transform:translateX(-50%) scaleX(1.01);">Apr</div>
<div style="position:absolute;top:1034.16px;font-size:12.3px;line-height:14.76px;font-weight:normal;color:#0d5b9b;white-space:pre;letter-spacing:0px;left:338.25px;transform:translateX(-50%) scaleX(1.01);">Mai</div>
<div style="position:absolute;top:1034.16px;font-size:12.3px;line-height:14.76px;font-weight:normal;color:#0d5b9b;white-space:pre;letter-spacing:0px;left:390.35px;transform:translateX(-50%) scaleX(1.01);">Jun</div>
<div style="position:absolute;top:1034.16px;font-size:12.3px;line-height:14.76px;font-weight:normal;color:#0d5b9b;white-space:pre;letter-spacing:0px;left:442.45px;transform:translateX(-50%) scaleX(1.01);">Jul</div>
<div style="position:absolute;top:1034.16px;font-size:12.3px;line-height:14.76px;font-weight:normal;color:#0d5b9b;white-space:pre;letter-spacing:0px;left:494.55px;transform:translateX(-50%) scaleX(1.01);">Aug</div>
<div style="position:absolute;top:1034.16px;font-size:12.3px;line-height:14.76px;font-weight:normal;color:#0d5b9b;white-space:pre;letter-spacing:0px;left:546.65px;transform:translateX(-50%) scaleX(1.01);">Sep</div>
<div style="position:absolute;top:1034.16px;font-size:12.3px;line-height:14.76px;font-weight:normal;color:#0d5b9b;white-space:pre;letter-spacing:0px;left:598.75px;transform:translateX(-50%) scaleX(1.01);">Okt</div>
<div style="position:absolute;top:1034.16px;font-size:12.3px;line-height:14.76px;font-weight:normal;color:#0d5b9b;white-space:pre;letter-spacing:0px;left:650.85px;transform:translateX(-50%) scaleX(1.01);">Nov</div>
<div style="position:absolute;top:1034.16px;font-size:12.3px;line-height:14.76px;font-weight:normal;color:#0d5b9b;white-space:pre;letter-spacing:0px;left:702.95px;transform:translateX(-50%) scaleX(1.01);">Dez</div>
<div style="position:absolute;top:1072.06px;font-size:12.3px;line-height:14.76px;font-weight:normal;color:#0d5b9b;white-space:pre;letter-spacing:1.1px;left:236.30px;transform-origin:0 0;">Maximale Temperatur</div>
<div style="position:absolute;top:1072.06px;font-size:12.3px;line-height:14.76px;font-weight:normal;color:#0d5b9b;white-space:pre;letter-spacing:1.1px;left:443.30px;transform-origin:0 0;">Minimale Temperatur</div>
<div style="position:absolute;left:50.1px;top:927.4px;transform-origin:0 0;transform:rotate(-90deg);font-size:12.8px;line-height:12.8px;color:#0d5b9b;white-space:pre;letter-spacing:1px;"><span style="position:relative;top:-9.9px">Temperatur</span></div>
<div style="position:absolute;top:745.37px;font-size:20px;line-height:24.0px;font-weight:bold;color:#005e9d;white-space:pre;letter-spacing:0px;left:786.00px;transform-origin:0 0;transform:scaleX(0.9);">DURCHSCHNITTLICHE JÄHRLICHE</div>
<div style="position:absolute;top:767.77px;font-size:20px;line-height:24.0px;font-weight:bold;color:#005e9d;white-space:pre;letter-spacing:0px;left:786.00px;transform-origin:0 0;transform:scaleX(0.9);">TEMPERATUR</div>
<div style="position:absolute;top:812.77px;font-size:20px;line-height:24.0px;font-weight:normal;color:#045d9c;white-space:pre;letter-spacing:0px;left:786.00px;transform-origin:0 0;transform:scaleX(0.99);">• Die durchschnittliche jährliche</div>
<div style="position:absolute;top:835.07px;font-size:20px;line-height:24.0px;font-weight:normal;color:#045d9c;white-space:pre;letter-spacing:0px;left:786.00px;transform-origin:0 0;transform:scaleX(0.99);">Höchsttemperatur beträgt 5.1°C</div>
<div style="position:absolute;top:882.77px;font-size:20px;line-height:24.0px;font-weight:normal;color:#045d9c;white-space:pre;letter-spacing:0px;left:786.00px;transform-origin:0 0;transform:scaleX(0.99);">• Die durchschnittliche jährliche</div>
<div style="position:absolute;top:906.07px;font-size:20px;line-height:24.0px;font-weight:normal;color:#045d9c;white-space:pre;letter-spacing:0px;left:786.00px;transform-origin:0 0;transform:scaleX(0.99);">Mindesttemperatur beträgt -1.5°C</div>
<div style="position:absolute;top:953.37px;font-size:20px;line-height:24.0px;font-weight:normal;color:#045d9c;white-space:pre;letter-spacing:0px;left:786.00px;transform-origin:0 0;transform:scaleX(0.99);">• Die durchschnittliche Tagestemperatur</div>
<div style="position:absolute;top:977.07px;font-size:20px;line-height:24.0px;font-weight:normal;color:#045d9c;white-space:pre;letter-spacing:0px;left:786.00px;transform-origin:0 0;transform:scaleX(0.957);">für das ganze Jahr beträgt 1.8°C</div>
<div style="position:absolute;top:1133.23px;font-size:23px;line-height:27.6px;font-weight:bold;color:#005e9d;white-space:pre;letter-spacing:0px;left:598.00px;transform:translateX(-50%) scaleX(0.914);">TÄGLICHE TEMPERATUR</div>
<div style="position:absolute;top:1195.19px;font-size:18.5px;line-height:22.2px;font-weight:bold;color:#505079;white-space:pre;letter-spacing:0px;left:87.55px;transform:translateX(-50%) scaleX(0.85);">JAN</div>
<div style="position:absolute;top:1243.74px;font-size:28.7px;line-height:34.44px;font-weight:bold;color:#505079;white-space:pre;letter-spacing:0px;left:87.55px;transform:translateX(-50%) scaleX(1.015);">-13°</div>
<div style="position:absolute;top:1195.19px;font-size:18.5px;line-height:22.2px;font-weight:bold;color:#56567b;white-space:pre;letter-spacing:0px;left:180.65px;transform:translateX(-50%) scaleX(0.85);">FEB</div>
<div style="position:absolute;top:1243.74px;font-size:28.7px;line-height:34.44px;font-weight:bold;color:#56567b;white-space:pre;letter-spacing:0px;left:180.65px;transform:translateX(-50%) scaleX(1.015);">-11°</div>
<div style="position:absolute;top:1195.19px;font-size:18.5px;line-height:22.2px;font-weight:bold;color:#62627f;white-space:pre;letter-spacing:0px;left:273.75px;transform:translateX(-50%) scaleX(0.85);">MÄR</div>
<div style="position:absolute;top:1243.74px;font-size:28.7px;line-height:34.44px;font-weight:bold;color:#62627f;white-space:pre;letter-spacing:0px;left:273.75px;transform:translateX(-50%) scaleX(1.015);">-6°</div>
<div style="position:absolute;top:1195.19px;font-size:18.5px;line-height:22.2px;font-weight:bold;color:#707084;white-space:pre;letter-spacing:0px;left:366.85px;transform:translateX(-50%) scaleX(0.85);">APR</div>
<div style="position:absolute;top:1243.74px;font-size:28.7px;line-height:34.44px;font-weight:bold;color:#707084;white-space:pre;letter-spacing:0px;left:366.85px;transform:translateX(-50%) scaleX(1.015);">0°</div>
<div style="position:absolute;top:1195.19px;font-size:18.5px;line-height:22.2px;font-weight:bold;color:#7b6754;white-space:pre;letter-spacing:0px;left:459.95px;transform:translateX(-50%) scaleX(0.85);">MAI</div>
<div style="position:absolute;top:1243.74px;font-size:28.7px;line-height:34.44px;font-weight:bold;color:#7b6754;white-space:pre;letter-spacing:0px;left:459.95px;transform:translateX(-50%) scaleX(1.015);">9°</div>
<div style="position:absolute;top:1195.19px;font-size:18.5px;line-height:22.2px;font-weight:bold;color:#7a5c3c;white-space:pre;letter-spacing:0px;left:553.05px;transform:translateX(-50%) scaleX(0.85);">JUN</div>
<div style="position:absolute;top:1243.74px;font-size:28.7px;line-height:34.44px;font-weight:bold;color:#7a5c3c;white-space:pre;letter-spacing:0px;left:553.05px;transform:translateX(-50%) scaleX(1.015);">13°</div>
<div style="position:absolute;top:1195.19px;font-size:18.5px;line-height:22.2px;font-weight:bold;color:#7a5530;white-space:pre;letter-spacing:0px;left:646.15px;transform:translateX(-50%) scaleX(0.85);">JUL</div>
<div style="position:absolute;top:1243.74px;font-size:28.7px;line-height:34.44px;font-weight:bold;color:#7a5530;white-space:pre;letter-spacing:0px;left:646.15px;transform:translateX(-50%) scaleX(1.015);">17°</div>
<div style="position:absolute;top:1195.19px;font-size:18.5px;line-height:22.2px;font-weight:bold;color:#7a5836;white-space:pre;letter-spacing:0px;left:739.25px;transform:translateX(-50%) scaleX(0.85);">AUG</div>
<div style="position:absolute;top:1243.74px;font-size:28.7px;line-height:34.44px;font-weight:bold;color:#7a5836;white-space:pre;letter-spacing:0px;left:739.25px;transform:translateX(-50%) scaleX(1.015);">15°</div>
<div style="position:absolute;top:1195.19px;font-size:18.5px;line-height:22.2px;font-weight:bold;color:#7b6754;white-space:pre;letter-spacing:0px;left:832.35px;transform:translateX(-50%) scaleX(0.85);">SEP</div>
<div style="position:absolute;top:1243.74px;font-size:28.7px;line-height:34.44px;font-weight:bold;color:#7b6754;white-space:pre;letter-spacing:0px;left:832.35px;transform:translateX(-50%) scaleX(1.015);">10°</div>
<div style="position:absolute;top:1195.19px;font-size:18.5px;line-height:22.2px;font-weight:bold;color:#707084;white-space:pre;letter-spacing:0px;left:925.45px;transform:translateX(-50%) scaleX(0.85);">OKT</div>
<div style="position:absolute;top:1243.74px;font-size:28.7px;line-height:34.44px;font-weight:bold;color:#707084;white-space:pre;letter-spacing:0px;left:925.45px;transform:translateX(-50%) scaleX(1.015);">2°</div>
<div style="position:absolute;top:1195.19px;font-size:18.5px;line-height:22.2px;font-weight:bold;color:#62627f;white-space:pre;letter-spacing:0px;left:1018.55px;transform:translateX(-50%) scaleX(0.85);">NOV</div>
<div style="position:absolute;top:1243.74px;font-size:28.7px;line-height:34.44px;font-weight:bold;color:#62627f;white-space:pre;letter-spacing:0px;left:1018.55px;transform:translateX(-50%) scaleX(1.015);">-4°</div>
<div style="position:absolute;top:1195.19px;font-size:18.5px;line-height:22.2px;font-weight:bold;color:#56567b;white-space:pre;letter-spacing:0px;left:1112.55px;transform:translateX(-50%) scaleX(0.85);">DEZ</div>
<div style="position:absolute;top:1243.74px;font-size:28.7px;line-height:34.44px;font-weight:bold;color:#56567b;white-space:pre;letter-spacing:0px;left:1112.55px;transform:translateX(-50%) scaleX(1.015);">-9°</div>
<div style="position:absolute;top:1777.99px;font-size:11px;line-height:13.2px;font-weight:normal;color:#0d5b9b;white-space:pre;letter-spacing:0px;right:1095.90px;transform-origin:100% 0;transform:scaleX(1.06);">0 mm</div>
<div style="position:absolute;top:1732.15px;font-size:11px;line-height:13.2px;font-weight:normal;color:#0d5b9b;white-space:pre;letter-spacing:0px;right:1095.90px;transform-origin:100% 0;transform:scaleX(1.06);">20 mm</div>
<div style="position:absolute;top:1686.32px;font-size:11px;line-height:13.2px;font-weight:normal;color:#0d5b9b;white-space:pre;letter-spacing:0px;right:1095.90px;transform-origin:100% 0;transform:scaleX(1.06);">40 mm</div>
<div style="position:absolute;top:1640.49px;font-size:11px;line-height:13.2px;font-weight:normal;color:#0d5b9b;white-space:pre;letter-spacing:0px;right:1095.90px;transform-origin:100% 0;transform:scaleX(1.06);">60 mm</div>
<div style="position:absolute;top:1594.65px;font-size:11px;line-height:13.2px;font-weight:normal;color:#0d5b9b;white-space:pre;letter-spacing:0px;right:1095.90px;transform-origin:100% 0;transform:scaleX(1.06);">80 mm</div>
<div style="position:absolute;top:1548.82px;font-size:11px;line-height:13.2px;font-weight:normal;color:#0d5b9b;white-space:pre;letter-spacing:0px;right:1095.90px;transform-origin:100% 0;transform:scaleX(1.06);">100 mm</div>
<div style="position:absolute;top:1502.98px;font-size:11px;line-height:13.2px;font-weight:normal;color:#0d5b9b;white-space:pre;letter-spacing:0px;right:1095.90px;transform-origin:100% 0;transform:scaleX(1.06);">120 mm</div>
<div style="position:absolute;top:1793.36px;font-size:12.3px;line-height:14.76px;font-weight:normal;color:#0d5b9b;white-space:pre;letter-spacing:0px;left:139.83px;transform:translateX(-50%) scaleX(1.01);">Jan</div>
<div style="position:absolute;top:1793.36px;font-size:12.3px;line-height:14.76px;font-weight:normal;color:#0d5b9b;white-space:pre;letter-spacing:0px;left:191.10px;transform:translateX(-50%) scaleX(1.01);">Feb</div>
<div style="position:absolute;top:1793.36px;font-size:12.3px;line-height:14.76px;font-weight:normal;color:#0d5b9b;white-space:pre;letter-spacing:0px;left:242.37px;transform:translateX(-50%) scaleX(1.01);">Mär</div>
<div style="position:absolute;top:1793.36px;font-size:12.3px;line-height:14.76px;font-weight:normal;color:#0d5b9b;white-space:pre;letter-spacing:0px;left:293.63px;transform:translateX(-50%) scaleX(1.01);">Apr</div>
<div style="position:absolute;top:1793.36px;font-size:12.3px;line-height:14.76px;font-weight:normal;color:#0d5b9b;white-space:pre;letter-spacing:0px;left:344.90px;transform:translateX(-50%) scaleX(1.01);">Mai</div>
<div style="position:absolute;top:1793.36px;font-size:12.3px;line-height:14.76px;font-weight:normal;color:#0d5b9b;white-space:pre;letter-spacing:0px;left:396.17px;transform:translateX(-50%) scaleX(1.01);">Jun</div>
<div style="position:absolute;top:1793.36px;font-size:12.3px;line-height:14.76px;font-weight:normal;color:#0d5b9b;white-space:pre;letter-spacing:0px;left:447.43px;transform:translateX(-50%) scaleX(1.01);">Jul</div>
<div style="position:absolute;top:1793.36px;font-size:12.3px;line-height:14.76px;font-weight:normal;color:#0d5b9b;white-space:pre;letter-spacing:0px;left:498.70px;transform:translateX(-50%) scaleX(1.01);">Aug</div>
<div style="position:absolute;top:1793.36px;font-size:12.3px;line-height:14.76px;font-weight:normal;color:#0d5b9b;white-space:pre;letter-spacing:0px;left:549.97px;transform:translateX(-50%) scaleX(1.01);">Sep</div>
<div style="position:absolute;top:1793.36px;font-size:12.3px;line-height:14.76px;font-weight:normal;color:#0d5b9b;white-space:pre;letter-spacing:0px;left:601.23px;transform:translateX(-50%) scaleX(1.01);">Okt</div>
<div style="position:absolute;top:1793.36px;font-size:12.3px;line-height:14.76px;font-weight:normal;color:#0d5b9b;white-space:pre;letter-spacing:0px;left:652.50px;transform:translateX(-50%) scaleX(1.01);">Nov</div>
<div style="position:absolute;top:1793.36px;font-size:12.3px;line-height:14.76px;font-weight:normal;color:#0d5b9b;white-space:pre;letter-spacing:0px;left:703.77px;transform:translateX(-50%) scaleX(1.01);">Dez</div>
<div style="position:absolute;top:1831.06px;font-size:12.3px;line-height:14.76px;font-weight:normal;color:#0d5b9b;white-space:pre;letter-spacing:0.9px;left:328.30px;transform-origin:0 0;">Niederschlagssumme</div>
<div style="position:absolute;left:50.1px;top:1690px;transform-origin:0 0;transform:rotate(-90deg);font-size:12.8px;line-height:12.8px;color:#0d5b9b;white-space:pre;letter-spacing:0.75px"><span style="position:relative;top:-9.9px">Niederschlag</span></div>
<div style="position:absolute;top:623.25px;font-size:42px;line-height:50.4px;font-weight:bold;color:#005e9d;white-space:pre;letter-spacing:0px;left:598.50px;transform:translateX(-50%) scaleX(0.953);">TEMPERATUR</div>
<div style="position:absolute;top:1379.89px;font-size:41px;line-height:49.2px;font-weight:bold;color:#005e9d;white-space:pre;letter-spacing:0px;left:600.00px;transform:translateX(-50%) scaleX(0.946);">NIEDERSCHLAG</div>
<div style="position:absolute;top:1504.17px;font-size:20px;line-height:24.0px;font-weight:normal;color:#045d9c;white-space:pre;letter-spacing:0px;left:786.00px;transform-origin:0 0;transform:scaleX(0.99);">Die durchschnittliche jährliche</div>
<div style="position:absolute;top:1527.82px;font-size:20px;line-height:24.0px;font-weight:normal;color:#045d9c;white-space:pre;letter-spacing:0px;left:786.00px;transform-origin:0 0;transform:scaleX(0.99);">Niederschlagsmenge in</div>
<div style="position:absolute;top:1551.47px;font-size:20px;line-height:24.0px;font-weight:normal;color:#045d9c;white-space:pre;letter-spacing:0px;left:786.00px;transform-origin:0 0;transform:scaleX(0.99);">Medweschjegorsk beträgt etwa 881 mm.</div>
<div style="position:absolute;top:1575.12px;font-size:20px;line-height:24.0px;font-weight:normal;color:#045d9c;white-space:pre;letter-spacing:0px;left:786.00px;transform-origin:0 0;transform:scaleX(0.99);">Der Unterschied zwischen der höchsten</div>
<div style="position:absolute;top:1598.77px;font-size:20px;line-height:24.0px;font-weight:normal;color:#045d9c;white-space:pre;letter-spacing:0px;left:786.00px;transform-origin:0 0;transform:scaleX(0.99);">Niederschlagsmenge (August) und der</div>
<div style="position:absolute;top:1622.42px;font-size:20px;line-height:24.0px;font-weight:normal;color:#045d9c;white-space:pre;letter-spacing:0px;left:786.00px;transform-origin:0 0;transform:scaleX(0.99);">niedrigsten (Januar) beträgt 65 mm.</div>
<div style="position:absolute;top:1670.17px;font-size:20px;line-height:24.0px;font-weight:normal;color:#045d9c;white-space:pre;letter-spacing:0px;left:786.00px;transform-origin:0 0;transform:scaleX(0.99);">Die meisten Niederschläge fallen im</div>
<div style="position:absolute;top:1693.87px;font-size:20px;line-height:24.0px;font-weight:normal;color:#045d9c;white-space:pre;letter-spacing:0px;left:786.00px;transform-origin:0 0;transform:scaleX(0.99);">August, mit einer monatlichen</div>
<div style="position:absolute;top:1717.57px;font-size:20px;line-height:24.0px;font-weight:normal;color:#045d9c;white-space:pre;letter-spacing:0px;left:786.00px;transform-origin:0 0;transform:scaleX(0.99);">Niederschlagsmenge von 113 mm in</div>
<div style="position:absolute;top:1741.27px;font-size:20px;line-height:24.0px;font-weight:normal;color:#045d9c;white-space:pre;letter-spacing:0px;left:786.00px;transform-origin:0 0;transform:scaleX(0.99);">diesem Zeitraum und einer</div>
<div style="position:absolute;top:1764.97px;font-size:20px;line-height:24.0px;font-weight:normal;color:#045d9c;white-space:pre;letter-spacing:0px;left:786.00px;transform-origin:0 0;transform:scaleX(0.99);">Niederschlagswahrscheinlichkeit von</div>
<div style="position:absolute;top:1788.67px;font-size:20px;line-height:24.0px;font-weight:normal;color:#045d9c;white-space:pre;letter-spacing:0px;left:786.00px;transform-origin:0 0;transform:scaleX(0.99);">etwa 37%. Die geringsten</div>
<div style="position:absolute;top:1812.37px;font-size:20px;line-height:24.0px;font-weight:normal;color:#045d9c;white-space:pre;letter-spacing:0px;left:786.00px;transform-origin:0 0;transform:scaleX(0.99);">Niederschlagsmengen werden dagegen</div>
<div style="position:absolute;top:1836.07px;font-size:20px;line-height:24.0px;font-weight:normal;color:#045d9c;white-space:pre;letter-spacing:0px;left:786.00px;transform-origin:0 0;transform:scaleX(0.99);">im Januar mit durchschnittlich 48 mm</div>
<div style="position:absolute;top:1859.77px;font-size:20px;line-height:24.0px;font-weight:normal;color:#045d9c;white-space:pre;letter-spacing:0px;left:786.00px;transform-origin:0 0;transform:scaleX(0.99);">und einer Wahrscheinlichkeit von 15%</div>
<div style="position:absolute;top:1883.47px;font-size:20px;line-height:24.0px;font-weight:normal;color:#045d9c;white-space:pre;letter-spacing:0px;left:786.00px;transform-origin:0 0;transform:scaleX(0.99);">verzeichnet.</div>
<div style="position:absolute;top:1935.25px;font-size:19.6px;line-height:23.52px;font-weight:bold;color:#005e9d;white-space:pre;letter-spacing:0px;left:786.00px;transform-origin:0 0;transform:scaleX(0.918);">NIEDERSCHLAG NACH TYP</div>
<div style="position:absolute;top:1968.25px;font-size:19.6px;line-height:23.52px;font-weight:normal;color:#045d9c;white-space:pre;letter-spacing:0px;left:786.00px;transform-origin:0 0;transform:scaleX(0.92);">• Regen: 74%</div>
<div style="position:absolute;top:1997.05px;font-size:19.6px;line-height:23.52px;font-weight:normal;color:#045d9c;white-space:pre;letter-spacing:0px;left:786.00px;transform-origin:0 0;transform:scaleX(0.92);">• Schnee: 26%</div>
<div style="position:absolute;top:1878.16px;font-size:16px;line-height:19.2px;font-weight:bold;color:#fff;white-space:pre;letter-spacing:0px;left:388.50px;transform:translateX(-50%) scaleX(0.958);">NIEDERSCHLAGSWAHRSCHEINLICHKEIT</div>
<div style="position:absolute;top:1955.94px;font-size:17.5px;line-height:21.0px;font-weight:bold;color:#fff;white-space:pre;letter-spacing:0px;left:66.90px;transform:translateX(-50%) scaleX(1.0);">15%</div>
<div style="position:absolute;top:1999.12px;font-size:11.5px;line-height:13.8px;font-weight:bold;color:#005e9d;white-space:pre;letter-spacing:0px;left:66.90px;transform:translateX(-50%) scaleX(0.96);">JAN</div>
<div style="position:absolute;top:1955.94px;font-size:17.5px;line-height:21.0px;font-weight:bold;color:#fff;white-space:pre;letter-spacing:0px;left:125.38px;transform:translateX(-50%) scaleX(1.0);">17%</div>
<div style="position:absolute;top:1999.12px;font-size:11.5px;line-height:13.8px;font-weight:bold;color:#005e9d;white-space:pre;letter-spacing:0px;left:125.38px;transform:translateX(-50%) scaleX(0.96);">FEB</div>
<div style="position:absolute;top:1955.94px;font-size:17.5px;line-height:21.0px;font-weight:bold;color:#fff;white-space:pre;letter-spacing:0px;left:183.86px;transform:translateX(-50%) scaleX(1.0);">19%</div>
<div style="position:absolute;top:1999.12px;font-size:11.5px;line-height:13.8px;font-weight:bold;color:#005e9d;white-space:pre;letter-spacing:0px;left:183.86px;transform:translateX(-50%) scaleX(0.96);">MÄR</div>
<div style="position:absolute;top:1955.94px;font-size:17.5px;line-height:21.0px;font-weight:bold;color:#fff;white-space:pre;letter-spacing:0px;left:242.34px;transform:translateX(-50%) scaleX(1.0);">22%</div>
<div style="position:absolute;top:1999.12px;font-size:11.5px;line-height:13.8px;font-weight:bold;color:#005e9d;white-space:pre;letter-spacing:0px;left:242.34px;transform:translateX(-50%) scaleX(0.96);">APR</div>
<div style="position:absolute;top:1955.94px;font-size:17.5px;line-height:21.0px;font-weight:bold;color:#fff;white-space:pre;letter-spacing:0px;left:300.82px;transform:translateX(-50%) scaleX(1.0);">29%</div>
<div style="position:absolute;top:1999.12px;font-size:11.5px;line-height:13.8px;font-weight:bold;color:#005e9d;white-space:pre;letter-spacing:0px;left:300.82px;transform:translateX(-50%) scaleX(0.96);">MAI</div>
<div style="position:absolute;top:1955.94px;font-size:17.5px;line-height:21.0px;font-weight:bold;color:#fff;white-space:pre;letter-spacing:0px;left:359.30px;transform:translateX(-50%) scaleX(1.0);">34%</div>
<div style="position:absolute;top:1999.12px;font-size:11.5px;line-height:13.8px;font-weight:bold;color:#005e9d;white-space:pre;letter-spacing:0px;left:359.30px;transform:translateX(-50%) scaleX(0.96);">JUN</div>
<div style="position:absolute;top:1955.94px;font-size:17.5px;line-height:21.0px;font-weight:bold;color:#fff;white-space:pre;letter-spacing:0px;left:417.78px;transform:translateX(-50%) scaleX(1.0);">34%</div>
<div style="position:absolute;top:1999.12px;font-size:11.5px;line-height:13.8px;font-weight:bold;color:#005e9d;white-space:pre;letter-spacing:0px;left:417.78px;transform:translateX(-50%) scaleX(0.96);">JUL</div>
<div style="position:absolute;top:1955.94px;font-size:17.5px;line-height:21.0px;font-weight:bold;color:#fff;white-space:pre;letter-spacing:0px;left:476.26px;transform:translateX(-50%) scaleX(1.0);">37%</div>
<div style="position:absolute;top:1999.12px;font-size:11.5px;line-height:13.8px;font-weight:bold;color:#005e9d;white-space:pre;letter-spacing:0px;left:476.26px;transform:translateX(-50%) scaleX(0.96);">AUG</div>
<div style="position:absolute;top:1955.94px;font-size:17.5px;line-height:21.0px;font-weight:bold;color:#fff;white-space:pre;letter-spacing:0px;left:534.74px;transform:translateX(-50%) scaleX(1.0);">31%</div>
<div style="position:absolute;top:1999.12px;font-size:11.5px;line-height:13.8px;font-weight:bold;color:#005e9d;white-space:pre;letter-spacing:0px;left:534.74px;transform:translateX(-50%) scaleX(0.96);">SEP</div>
<div style="position:absolute;top:1955.94px;font-size:17.5px;line-height:21.0px;font-weight:bold;color:#fff;white-space:pre;letter-spacing:0px;left:593.22px;transform:translateX(-50%) scaleX(1.0);">28%</div>
<div style="position:absolute;top:1999.12px;font-size:11.5px;line-height:13.8px;font-weight:bold;color:#005e9d;white-space:pre;letter-spacing:0px;left:593.22px;transform:translateX(-50%) scaleX(0.96);">OKT</div>
<div style="position:absolute;top:1955.94px;font-size:17.5px;line-height:21.0px;font-weight:bold;color:#fff;white-space:pre;letter-spacing:0px;left:651.70px;transform:translateX(-50%) scaleX(1.0);">25%</div>
<div style="position:absolute;top:1999.12px;font-size:11.5px;line-height:13.8px;font-weight:bold;color:#005e9d;white-space:pre;letter-spacing:0px;left:651.70px;transform:translateX(-50%) scaleX(0.96);">NOV</div>
<div style="position:absolute;top:1955.94px;font-size:17.5px;line-height:21.0px;font-weight:bold;color:#fff;white-space:pre;letter-spacing:0px;left:710.18px;transform:translateX(-50%) scaleX(1.0);">27%</div>
<div style="position:absolute;top:1999.12px;font-size:11.5px;line-height:13.8px;font-weight:bold;color:#005e9d;white-space:pre;letter-spacing:0px;left:710.18px;transform:translateX(-50%) scaleX(0.96);">DEZ</div>
<div style="position:absolute;top:2102.92px;font-size:15.4px;line-height:18.48px;font-weight:bold;color:#abdcfb;white-space:pre;letter-spacing:0px;left:185.30px;transform-origin:0 0;transform:scaleX(1.134);">CC BY-ND 4.0</div>
<div style="position:absolute;top:2098.78px;font-size:22px;line-height:26.4px;font-weight:bold;color:#fff;white-space:pre;letter-spacing:0px;right:43.00px;transform-origin:100% 0;transform:scaleX(0.945);">METEOATLAS.DE</div>

</body></html>
